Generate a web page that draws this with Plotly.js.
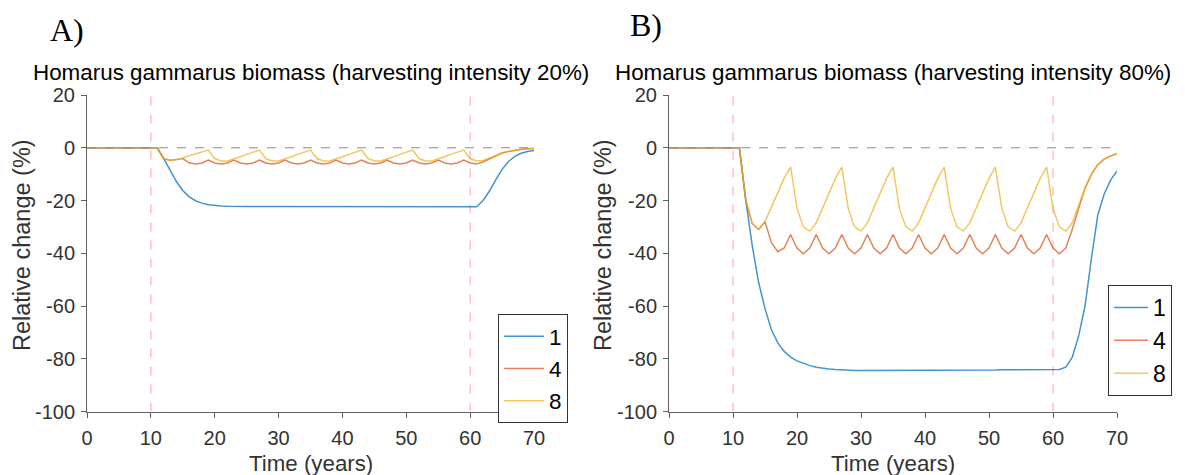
<!DOCTYPE html>
<html>
<head>
<meta charset="utf-8">
<script src="https://cdn.plot.ly/plotly-3.0.1.min.js"></script>
<style>html,body{margin:0;padding:0;background:#fff;}#chart{width:1185px;height:475px;}</style>
</head>
<body>
<div id="chart"></div>
<script>
// ---- data ----
const years = [0,1,2,3,4,5,6,7,8,9,10,11,12,13,14,15,16,17,18,19,20,21,22,23,24,25,26,27,28,29,30,31,32,33,34,35,36,37,38,39,40,41,42,43,44,45,46,47,48,49,50,51,52,53,54,55,56,57,58,59,60,61,62,63,64,65,66,67,68,69,70];

const seriesNames = ["1", "4", "8"];

// Panel A: harvesting intensity 20%
const a1 = [0,0,0,0,0,0,0,0,0,0,0,0,
  -4.0,-8.5,-12.8,-16.2,-18.6,-20.1,-21.0,-21.6,-21.9,-22.1,-22.2,-22.3,
  -22.3,-22.3,-22.3,-22.3,-22.3,-22.3,-22.3,-22.3,-22.3,-22.3,-22.3,-22.3,-22.3,-22.3,-22.3,-22.3,-22.3,
  -22.4,-22.4,-22.4,-22.4,-22.4,-22.4,-22.4,-22.4,-22.4,-22.4,-22.4,-22.4,-22.4,-22.4,-22.4,-22.4,-22.4,-22.4,-22.4,-22.4,
  -22.4,-20.1,-16.5,-12.2,-8.2,-5.2,-3.3,-2.1,-1.4,-1.0];
const a4 = [0,0,0,0,0,0,0,0,0,0,0,0,
  -4.2,-4.7,-4.5,-4.1,-5.7,-6.2,-5.8,-4.7,
  -5.8,-6.2,-5.8,-4.7,-5.8,-6.2,-5.8,-4.7,
  -5.8,-6.2,-5.8,-4.7,-5.8,-6.2,-5.8,-4.7,
  -5.8,-6.2,-5.8,-4.7,-5.8,-6.2,-5.8,-4.7,
  -5.8,-6.2,-5.8,-4.7,-5.8,-6.2,-5.8,-4.7,
  -5.8,-6.2,-5.8,-4.7,-5.8,-6.2,-5.8,-4.7,
  -5.8,-6.2,-5.4,-4.2,-3.0,-2.0,-1.4,-0.9,-0.6,-0.4,-0.3];
const a8 = [0,0,0,0,0,0,0,0,0,0,0,0,
  -4.2,-4.7,-4.5,-3.9,-3.0,-2.2,-1.5,-0.9,
  -4.1,-5.0,-5.0,-4.3,-3.4,-2.5,-1.7,-0.9,
  -4.1,-5.0,-5.0,-4.3,-3.4,-2.5,-1.7,-0.9,
  -4.1,-5.0,-5.0,-4.3,-3.4,-2.5,-1.7,-0.9,
  -4.1,-5.0,-5.0,-4.3,-3.4,-2.5,-1.7,-0.9,
  -4.1,-5.0,-5.0,-4.3,-3.4,-2.5,-1.7,-0.9,
  -4.1,-5.0,-4.8,-3.8,-2.8,-2.0,-1.4,-0.9,-0.6,-0.4,-0.3];

// Panel B: harvesting intensity 80%
const b1 = [0,0,0,0,0,0,0,0,0,0,0,0,
  -20,-37,-51,-61,-69,-74,-77.2,-79.4,-80.8,-81.8,-82.6,-83.2,-83.6,-83.9,-84.1,-84.3,-84.4,-84.5,
  -84.5,-84.5,-84.5,-84.5,-84.5,-84.5,
  -84.4,-84.4,-84.4,-84.4,-84.4,-84.4,-84.4,-84.4,
  -84.3,-84.3,-84.3,-84.3,-84.3,-84.3,-84.3,-84.3,
  -84.2,-84.2,-84.2,-84.2,-84.2,-84.2,
  -84.1,-84.1,-84.1,-84.1,
  -83.2,-79.5,-71.5,-60,-42,-25.5,-17.5,-12.3,-8.8];
const b4 = [0,0,0,0,0,0,0,0,0,0,0,0,
  -20,-28.7,-31,-28,-36,-39.4,-38,-32.9,
  -38,-40.2,-38,-32.9,-38,-40.2,-38,-32.9,
  -38,-40.2,-38,-32.9,-38,-40.2,-38,-32.9,
  -38,-40.2,-38,-32.9,-38,-40.2,-38,-32.9,
  -38,-40.2,-38,-32.9,-38,-40.2,-38,-32.9,
  -38,-40.2,-38,-32.9,-38,-40.2,-38,-32.9,
  -38,-40.2,-38,-31,-23,-15.4,-10.1,-6.4,-4.3,-3.1,-2.3];
const b8 = [0,0,0,0,0,0,0,0,0,0,0,0,
  -20,-28.7,-31,-28,-22.5,-17,-11.5,-7.3,
  -23,-30,-31.6,-28.5,-22.9,-17.2,-11.6,-7.3,
  -23,-30,-31.6,-28.5,-22.9,-17.2,-11.6,-7.3,
  -23,-30,-31.6,-28.5,-22.9,-17.2,-11.6,-7.3,
  -23,-30,-31.6,-28.5,-22.9,-17.2,-11.6,-7.3,
  -23,-30,-31.6,-28.5,-22.9,-17.2,-11.6,-7.3,
  -23,-30,-31.6,-28.5,-22,-15.3,-10,-6.3,-4.2,-3,-2.3];

// reference lines
const harvestYears = [10, 60];
const baselineX = [0, 70];
const baselineY = [0, 0];
const yExtent = [-100, 20];

const xTicks = [0,10,20,30,40,50,60,70];
const xTickLabels = ["0","10","20","30","40","50","60","70"];
const yTicks = [-100,-80,-60,-40,-20,0,20];
const yTickLabels = ["-100","-80","-60","-40","-20","0","20"];

const titleA = "Homarus gammarus biomass (harvesting intensity 20%)";
const titleB = "Homarus gammarus biomass (harvesting intensity 80%)";

// ---- styles ----
const colors = ["rgba(0,114,189,0.75)", "rgba(217,83,25,0.72)", "rgba(237,177,32,0.72)"];
const FONT = "Liberation Sans, Arial, sans-serif";

const traces = [];
function refLines(xa, ya) {
  harvestYears.forEach(h => {
    traces.push({x:[h,h], y:yExtent, xaxis:xa, yaxis:ya, mode:"lines", showlegend:false, hoverinfo:"skip",
      line:{color:"#ff9f9f", width:1, dash:"dash"}});
  });
}
refLines("x","y");
refLines("x2","y2");

const dataA = [a1, a4, a8];
const dataB = [b1, b4, b8];
dataA.forEach((s,i) => traces.push({x:years, y:s, xaxis:"x", yaxis:"y", mode:"lines", name:seriesNames[i],
  legend:"legend", line:{color:colors[i], width:1.5}}));
dataB.forEach((s,i) => traces.push({x:years, y:s, xaxis:"x2", yaxis:"y2", mode:"lines", name:seriesNames[i],
  legend:"legend2", line:{color:colors[i], width:1.5}}));

traces.push({x:baselineX, y:baselineY, xaxis:"x", yaxis:"y", mode:"lines", showlegend:false, hoverinfo:"skip",
  line:{color:"#8a8a8a", width:1, dash:"dash"}});
traces.push({x:baselineX, y:baselineY, xaxis:"x2", yaxis:"y2", mode:"lines", showlegend:false, hoverinfo:"skip",
  line:{color:"#8a8a8a", width:1, dash:"dash"}});

const W = 1185, H = 475;
const px = v => v / W;
const py = v => 1 - v / H;

function xAxis(dom, anchor) {
  return {domain:dom, anchor:anchor, range:[0,70], tickvals:xTicks, ticktext:xTickLabels, ticks:"outside", ticklen:5, tickwidth:1,
    tickcolor:"#606060", showline:true, linecolor:"#606060", linewidth:1, showgrid:false, zeroline:false,
    tickfont:{family:FONT, size:20, color:"#333"}, ticklabelstandoff:3, fixedrange:true};
}
function yAxis(dom, anchor) {
  return {domain:dom, anchor:anchor, range:yExtent, tickvals:yTicks, ticktext:yTickLabels, ticks:"outside", ticklen:5, tickwidth:1,
    tickcolor:"#606060", showline:true, linecolor:"#606060", linewidth:1, showgrid:false, zeroline:false,
    tickfont:{family:FONT, size:20, color:"#333"}, ticklabelstandoff:2, fixedrange:true};
}

const yDom = [py(411.5), py(95)];
const legendStyle = (x, y, fs, iw) => ({x:px(x), y:py(y), xanchor:"left", yanchor:"top", bgcolor:"#fff",
  bordercolor:"#333", borderwidth:1, font:{family:FONT, size:fs, color:"#000"}, tracegroupgap:0, itemwidth:iw});

const layout = {
  width:W, height:H, margin:{l:0, r:0, t:0, b:0}, paper_bgcolor:"#fff", plot_bgcolor:"#fff",
  showlegend:true,
  xaxis: xAxis([px(87), px(534)], "y"),
  yaxis: yAxis(yDom, "x"),
  xaxis2: xAxis([px(669), px(1117)], "y2"),
  yaxis2: yAxis(yDom, "x2"),
  legend: legendStyle(498, 314, 22.5, 40),
  legend2: legendStyle(1108, 285, 23, 34),
  annotations: [
    {text:"A)", x:px(67), y:py(30), xref:"paper", yref:"paper", showarrow:false, xanchor:"center", yanchor:"middle",
      font:{family:"Liberation Serif, Times New Roman, serif", size:32, color:"#000"}},
    {text:"B)", x:px(646), y:py(25), xref:"paper", yref:"paper", showarrow:false, xanchor:"center", yanchor:"middle",
      font:{family:"Liberation Serif, Times New Roman, serif", size:32, color:"#000"}},
    {text:titleA, x:px(310.5), y:py(73), xref:"paper", yref:"paper", showarrow:false, xanchor:"center", yanchor:"middle",
      font:{family:FONT, size:22.4, color:"#000"}},
    {text:titleB, x:px(893), y:py(73), xref:"paper", yref:"paper", showarrow:false, xanchor:"center", yanchor:"middle",
      font:{family:FONT, size:22.4, color:"#000"}},
    {text:"Time (years)", x:px(310.5), y:py(463), xref:"paper", yref:"paper", showarrow:false, xanchor:"center", yanchor:"middle",
      font:{family:FONT, size:22.3, color:"#333"}},
    {text:"Time (years)", x:px(893), y:py(463), xref:"paper", yref:"paper", showarrow:false, xanchor:"center", yanchor:"middle",
      font:{family:FONT, size:22.3, color:"#333"}},
    {text:"Relative change (%)", x:px(22), y:py(245), xref:"paper", yref:"paper", showarrow:false, textangle:-90,
      xanchor:"center", yanchor:"middle", font:{family:FONT, size:23.5, color:"#333"}},
    {text:"Relative change (%)", x:px(603), y:py(245), xref:"paper", yref:"paper", showarrow:false, textangle:-90,
      xanchor:"center", yanchor:"middle", font:{family:FONT, size:23.5, color:"#333"}}
  ]
};

Plotly.newPlot("chart", traces, layout, {staticPlot:true, displayModeBar:false});
</script>
</body>
</html>
